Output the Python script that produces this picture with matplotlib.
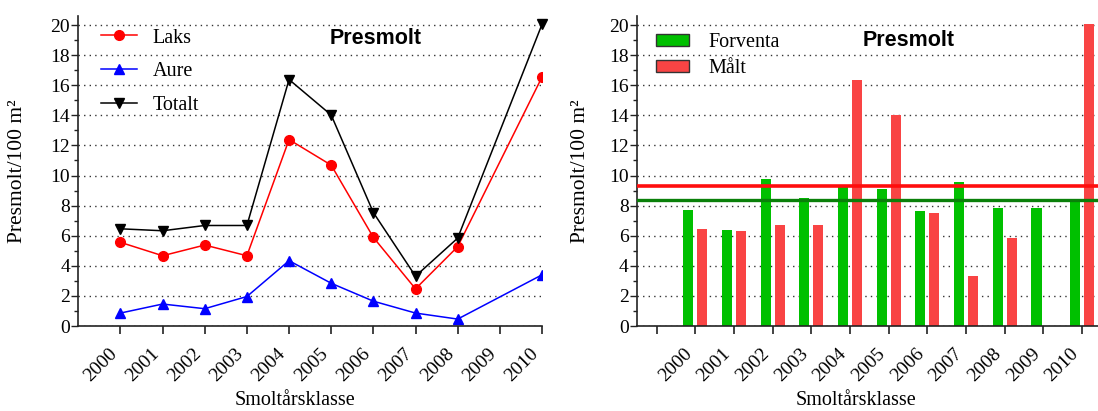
import numpy as np
import matplotlib
matplotlib.use("Agg")
import matplotlib.pyplot as plt
from matplotlib.patches import Patch
from matplotlib.ticker import MultipleLocator

plt.rcParams["font.family"] = ["Liberation Serif", "DejaVu Serif"]

years = [2000, 2001, 2002, 2003, 2004, 2005, 2006, 2007, 2008, 2009, 2010]
laks = [5.56, 4.67, 5.38, 4.67, 12.39, 10.69, 5.89, 2.47, 5.27, None, 16.54]
aure = [0.86, 1.46, 1.15, 1.96, 4.34, 2.84, 1.65, 0.86, 0.46, None, 3.40]
totalt = [6.46, 6.33, 6.68, 6.68, 16.38, 14.02, 7.54, 3.31, 5.84, None, 20.04]
forventa = [7.72, 6.40, 9.76, 8.51, 9.25, 9.10, 7.65, 9.56, 7.85, 7.85, 8.31]
maalt = totalt

TICK_FS = 14
LEG_FS = 14.5
title_font = dict(family="Liberation Sans", fontweight="bold", fontsize=15.5)


def valid(xs, ys):
    pts = [(x, y) for x, y in zip(xs, ys) if y is not None]
    return [p[0] for p in pts], [p[1] for p in pts]


def style_axes(ax):
    for side in ("top", "right"):
        ax.spines[side].set_visible(False)
    for side in ("left", "bottom"):
        ax.spines[side].set_linewidth(1.2)
        ax.spines[side].set_color("#222222")
    ax.set_ylim(0, 20.6)
    ax.yaxis.set_major_locator(MultipleLocator(2))
    ax.yaxis.set_minor_locator(MultipleLocator(1))
    ax.set_yticks(range(0, 21, 2))
    ax.tick_params(axis="y", which="major", length=5, width=1, pad=1,
                   labelsize=TICK_FS, color="#222222")
    ax.tick_params(axis="y", which="minor", length=3, width=1, color="#222222")
    ax.tick_params(axis="x", which="major", length=6, width=1.2, pad=8,
                   labelsize=TICK_FS, color="#222222")
    ax.grid(axis="y", linestyle=(0, (1, 3)), linewidth=1.0, color="#333333")
    ax.set_axisbelow(True)
    for lbl in ax.get_xticklabels():
        lbl.set_rotation(45)
        lbl.set_ha("right")
        lbl.set_va("top")


fig = plt.figure(figsize=(10.98, 4.11), dpi=100)
ax1 = fig.add_axes([0.0713, 0.2068, 0.4223, 0.7542])
ax2 = fig.add_axes([0.5801, 0.2068, 0.4199, 0.7542])

# left: presmolt density per species
x, y = valid(years, laks)
ax1.plot(x, y, "-o", color="#ff0000", lw=1.1, ms=7, label="Laks")
x, y = valid(years, aure)
ax1.plot(x, y, "-^", color="#0000ff", lw=1.1, ms=7.5, label="Aure")
x, y = valid(years, totalt)
ax1.plot(x, y, "-v", color="#000000", lw=1.1, ms=7.5, label="Totalt",
         clip_on=False)
ax1.set_xlim(1999, 2010)
ax1.set_xticks(years)
ax1.set_xticklabels([str(v) for v in years])
style_axes(ax1)
ax1.legend(loc="upper left", bbox_to_anchor=(0.05, 0.96), frameon=False,
           fontsize=LEG_FS, handlelength=1.75, handletextpad=0.8,
           labelspacing=0.72, borderpad=0, borderaxespad=0)
ax1.text(0.642, 0.929, "Presmolt", transform=ax1.transAxes,
         ha="center", va="center", **title_font)
ax1.set_ylabel("Presmolt/100 m²", fontsize=15.5)
ax1.yaxis.set_label_coords(-0.11, 0.5)
ax1.set_xlabel("Smoltårsklasse", fontsize=14.5)
ax1.xaxis.set_label_coords(0.468, -0.21)

# right: expected vs measured
bw = 0.26
off = 0.18
yr = np.array(years, dtype=float)
ax2.bar(yr - off, forventa, width=bw, color="#00c000", zorder=2)
xm, ym = valid(years, maalt)
ax2.bar(np.array(xm) + off, ym, width=bw, color="#f94444", zorder=2)
ax2.axhline(np.mean(ym), color="#ff0d0d", lw=2.6, zorder=3)
ax2.axhline(np.mean(forventa), color="#0a800a", lw=2.4, zorder=3)
ax2.set_xlim(1998.49, 2010.41)
ax2.set_xticks([1999] + years)
ax2.set_xticklabels([""] + [str(v) for v in years])
style_axes(ax2)
handles = [Patch(facecolor="#00c000", edgecolor="#333333", lw=1, label="Forventa"),
           Patch(facecolor="#f94444", edgecolor="#333333", lw=1, label="Målt")]
ax2.legend(handles=handles, loc="upper left", bbox_to_anchor=(0.041, 0.944),
           frameon=False, fontsize=LEG_FS, handlelength=1.65, handleheight=0.55,
           handletextpad=0.95, labelspacing=0.35, borderpad=0, borderaxespad=0)
ax2.text(0.59, 0.92, "Presmolt", transform=ax2.transAxes,
         ha="center", va="center", **title_font)
ax2.set_ylabel("Presmolt/100 m²", fontsize=15.5)
ax2.yaxis.set_label_coords(-0.102, 0.5)
ax2.set_xlabel("Smoltårsklasse", fontsize=14.5)
ax2.xaxis.set_label_coords(0.475, -0.21)

fig.savefig("out.png", dpi=100)
